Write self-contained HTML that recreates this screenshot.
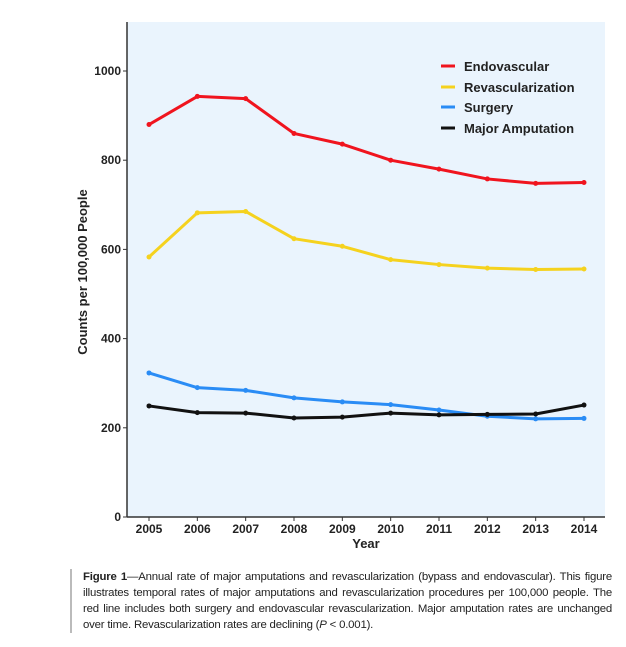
<!DOCTYPE html>
<html><head><meta charset="utf-8"><style>
body{margin:0;background:#fff;width:626px;height:647px;overflow:hidden;font-family:"Liberation Sans",sans-serif}
#cap{position:absolute;left:70px;top:569px;width:529px;border-left:2px solid #bbb;padding-left:11px;font-size:11.4px;line-height:16px;text-align:justify;color:#222;font-family:"Liberation Sans",sans-serif;letter-spacing:-0.2px}
</style></head><body>
<svg id="chart" width="626" height="560" style="position:absolute;left:0;top:0" font-family="Liberation Sans, sans-serif"></svg>
<div id="cap"><b>Figure 1</b>—Annual rate of major amputations and revascularization (bypass and endovascular). This figure illustrates temporal rates of major amputations and revascularization procedures per 100,000 people. The red line includes both surgery and endovascular revascularization. Major amputation rates are unchanged over time. Revascularization rates are declining (<i>P</i> &lt; 0.001).</div>
<script>
const years=[2005,2006,2007,2008,2009,2010,2011,2012,2013,2014];
const endovascular=[880,943,938,860,836,800,780,758,748,750];
const revascularization=[583,682,685,624,607,577,566,558,555,556];
const surgery=[323,290,284,267,258,252,240,226,220,221];
const amputation=[249,234,233,222,224,233,229,230,231,251];
const yTicks=[0,200,400,600,800,1000];
const seriesNames=["Endovascular","Revascularization","Surgery","Major Amputation"];
const NS="http://www.w3.org/2000/svg";
const svg=document.getElementById('chart');
const L=127,R=605,T=22,B=517;
const x=i=>149+i*(584-149)/(years.length-1);
const y=v=>B-v*0.446;
function mk(t,a,p){const e=document.createElementNS(NS,t);for(const k in a)e.setAttribute(k,a[k]);(p||svg).appendChild(e);return e;}
const bg=mk('rect',{x:L,y:T,width:R-L,height:B-T,fill:'#eaf4fd'});


const ya=mk('line',{x1:L,y1:T,x2:L,y2:B,stroke:'#333','stroke-width':1.5});


const xa=mk('line',{x1:L,y1:B,x2:R,y2:B,stroke:'#333','stroke-width':1.5});


yTicks.forEach(v=>{
 mk('line',{x1:L-4,y1:y(v),x2:L,y2:y(v),stroke:'#333'});
 const t=mk('text',{x:L-6,y:y(v)+4,'text-anchor':'end','font-size':12,'font-weight':'bold',fill:'#222'});t.textContent=v;
 
 
});
years.forEach((yr,i)=>{
 mk('line',{x1:x(i),y1:B,x2:x(i),y2:B+4,stroke:'#333'});
 const t=mk('text',{x:x(i),y:B+16,'text-anchor':'middle','font-size':12,'font-weight':'bold',fill:'#222'});t.textContent=yr;
 
 
});
const xt=mk('text',{x:366,y:548,'text-anchor':'middle','font-size':13,'font-weight':'bold',fill:'#222'});xt.textContent='Year';


const yt=mk('text',{x:87,y:272,'text-anchor':'middle','font-size':13,'font-weight':'bold',fill:'#222',transform:'rotate(-90 87 272)'});yt.textContent='Counts per 100,000 People';


const data=[endovascular,revascularization,surgery,amputation];
const cols=['#f0141e','#f5d21e','#2a8cf5','#111'];
const slugs=['endovascular','revascularization','surgery','major-amputation'];
data.forEach((d,s)=>{
 const pl=mk('polyline',{points:d.map((v,i)=>x(i)+','+y(v)).join(' '),fill:'none',stroke:cols[s],'stroke-width':3,'stroke-linejoin':'round'});
 
 
 d.forEach((v,i)=>{const c=mk('circle',{cx:x(i),cy:y(v),r:2.5,fill:cols[s]});
  
  });
 const ly=[70,91,111,132][s];
 const g=mk('g',{});
 
 
 mk('line',{x1:441,y1:ly-4,x2:455,y2:ly-4,stroke:cols[s],'stroke-width':3},g);
 const t=mk('text',{x:464,y:ly+1,'font-size':13,'font-weight':'bold',fill:'#222'},g);t.textContent=seriesNames[s];
});
</script>
</body></html>
